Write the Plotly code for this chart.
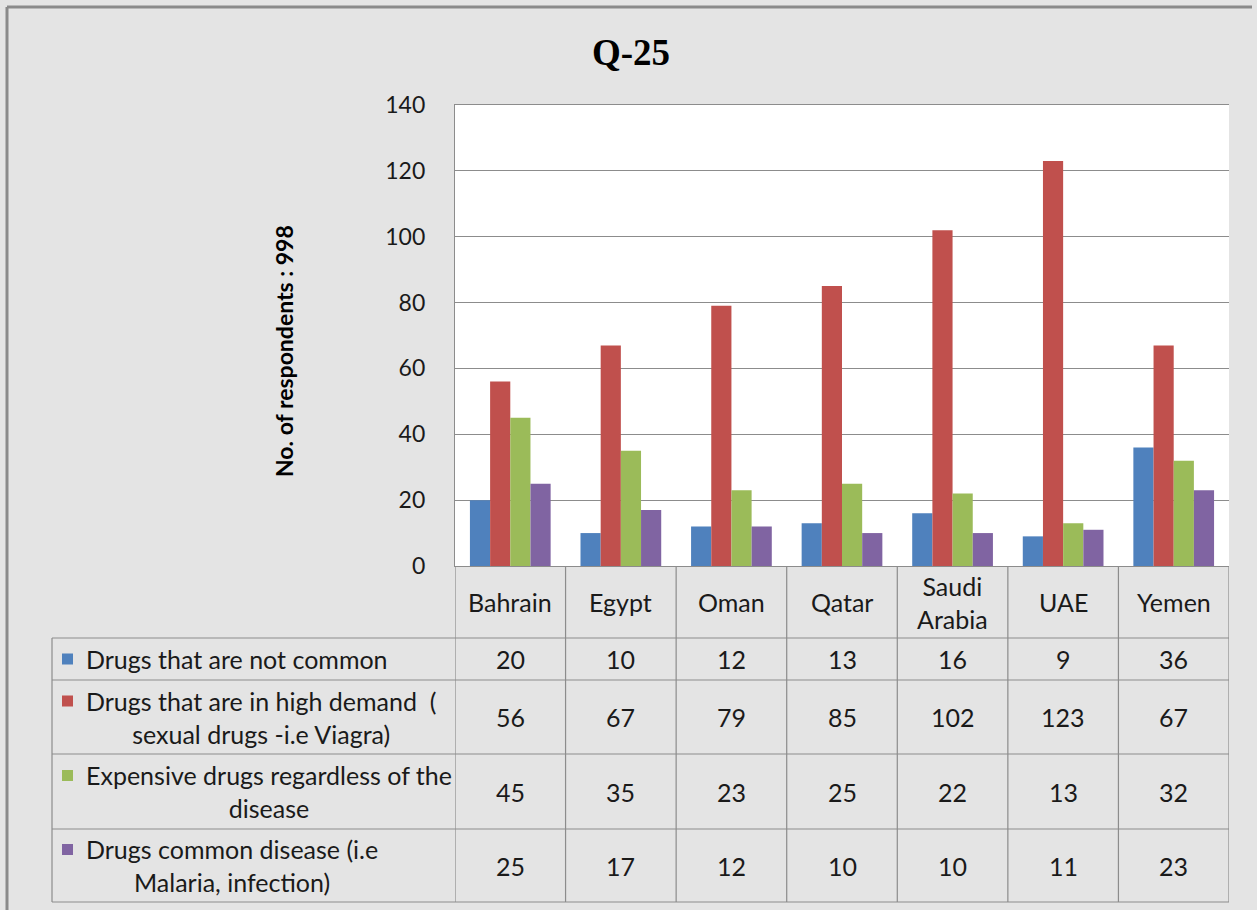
import plotly.graph_objects as go

# ---------------- data ----------------
countries = ["Bahrain", "Egypt", "Oman", "Qatar", "Saudi Arabia", "UAE", "Yemen"]
country_labels = ["Bahrain", "Egypt", "Oman", "Qatar", "Saudi<br>Arabia", "UAE", "Yemen"]
series_names = [
    "Drugs that are not common",
    "Drugs that are in high demand  (<br>sexual drugs -i.e Viagra)",
    "Expensive drugs regardless of the<br>disease",
    "Drugs common disease (i.e<br>Malaria, infection)",
]
not_common = [20, 10, 12, 13, 16, 9, 36]
high_demand = [56, 67, 79, 85, 102, 123, 67]
expensive = [45, 35, 23, 25, 22, 13, 32]
common_disease = [25, 17, 12, 10, 10, 11, 23]
series_values = [not_common, high_demand, expensive, common_disease]
colors = ["#4F81BD", "#C0504D", "#9BBB59", "#8064A2"]
y_ticks = [0, 20, 40, 60, 80, 100, 120, 140]

# ---------------- layout geometry (pixels) ----------------
W, H = 1257, 910
L, R, T, B = 455, 1229, 105, 566
PW, PH = R - L, B - T


def px_x(px):
    return (px - L) / PW


def px_y(py):
    return (B - py) / PH


FONT = "Lato, 'Open Sans', sans-serif"
GRID = "#8c8c8c"
TXT = "#1a1a1a"
TS = 25

fig = go.Figure()
x_idx = list(range(len(countries)))
for name, vals, col in zip(series_names, series_values, colors):
    fig.add_trace(go.Bar(x=x_idx, y=vals, name=name.replace("<br>", " "),
                         marker=dict(color=col, line=dict(width=0)),
                         showlegend=False))

shapes = []
annotations = []

# table row boundaries (pixels)
row_edges = [638, 680, 754, 829, 902]
label_left = 52

for py in row_edges:
    shapes.append(dict(type="line", xref="paper", yref="paper",
                       x0=px_x(label_left), x1=1, y0=px_y(py), y1=px_y(py),
                       line=dict(color=GRID, width=1.2)))
for k in range(len(countries) + 1):
    shapes.append(dict(type="line", xref="x", yref="paper",
                       x0=k - 0.5, x1=k - 0.5, y0=0, y1=px_y(row_edges[-1]),
                       line=dict(color=GRID, width=1.2)))
shapes.append(dict(type="line", xref="paper", yref="paper",
                   x0=px_x(label_left), x1=px_x(label_left),
                   y0=px_y(row_edges[0]), y1=px_y(row_edges[-1]),
                   line=dict(color=GRID, width=1.2)))

# header category labels
for i, lab in enumerate(country_labels):
    annotations.append(dict(x=i, y=px_y(602), xref="x", yref="paper",
                            xanchor="center", yanchor="middle",
                            text=lab, showarrow=False,
                            font=dict(family=FONT, size=TS, color=TXT)))

# value cells and row labels
for r, (name, vals, col) in enumerate(zip(series_names, series_values, colors)):
    top, bot = row_edges[r], row_edges[r + 1]
    cy = (top + bot) / 2
    for i, v in enumerate(vals):
        annotations.append(dict(x=i, y=px_y(cy), xref="x", yref="paper",
                                xanchor="center", yanchor="middle",
                                text=str(v), showarrow=False,
                                font=dict(family=FONT, size=TS, color=TXT)))
    annotations.append(dict(x=px_x(84), y=px_y(cy), xref="paper", yref="paper",
                            xanchor="left", yanchor="middle", align="center",
                            text=name, showarrow=False,
                            font=dict(family=FONT, size=TS, color=TXT)))
    nlines = name.count("<br>") + 1
    ky = cy - (nlines - 1) * 16
    shapes.append(dict(type="rect", xref="paper", yref="paper",
                       x0=px_x(62), x1=px_x(73), y0=px_y(ky + 5.5), y1=px_y(ky - 5.5),
                       fillcolor=col, line=dict(width=0)))

# outer frame (left and top)
shapes.append(dict(type="line", xref="paper", yref="paper",
                   x0=px_x(7), x1=px_x(7), y0=px_y(7), y1=px_y(H),
                   line=dict(color="#8a8a8a", width=3)))
shapes.append(dict(type="line", xref="paper", yref="paper",
                   x0=px_x(7), x1=px_x(1252), y0=px_y(7), y1=px_y(7),
                   line=dict(color="#8a8a8a", width=3)))

# title and y-axis title
annotations.append(dict(x=px_x(631), y=px_y(52), xref="paper", yref="paper",
                        xanchor="center", yanchor="middle",
                        text="<b>Q-25</b>", showarrow=False,
                        font=dict(family="'Liberation Serif', 'Times New Roman', serif",
                                  size=37, color="#000")))
annotations.append(dict(x=px_x(284), y=px_y(351), xref="paper", yref="paper",
                        xanchor="center", yanchor="middle",
                        text="<b>No. of respondents : 998</b>", textangle=-90,
                        showarrow=False,
                        font=dict(family=FONT, size=23, color="#000")))

fig.update_layout(
    width=W, height=H,
    margin=dict(l=L, r=W - R, t=T, b=H - B, pad=0),
    paper_bgcolor="#e4e4e4",
    plot_bgcolor="#ffffff",
    barmode="group",
    bargap=0.27,
    bargroupgap=0,
    shapes=shapes,
    annotations=annotations,
    xaxis=dict(range=[-0.5, 6.5], showticklabels=False, showgrid=False,
               zeroline=False, showline=True, linecolor=GRID, linewidth=1.2,
               mirror=True, ticks=""),
    yaxis=dict(range=[0, 140], tickvals=y_ticks, showgrid=True, gridcolor=GRID,
               gridwidth=1.2, zeroline=False, showline=True, linecolor=GRID,
               linewidth=1.2, ticks="outside", ticklen=24,
               tickcolor="rgba(0,0,0,0)",
               tickfont=dict(family=FONT, size=23, color=TXT)),
)

fig.write_html("out.html",
               config={"displayModeBar": False},
               post_script="document.body.style.margin='0';"
                           "document.body.style.background='#e4e4e4';")
